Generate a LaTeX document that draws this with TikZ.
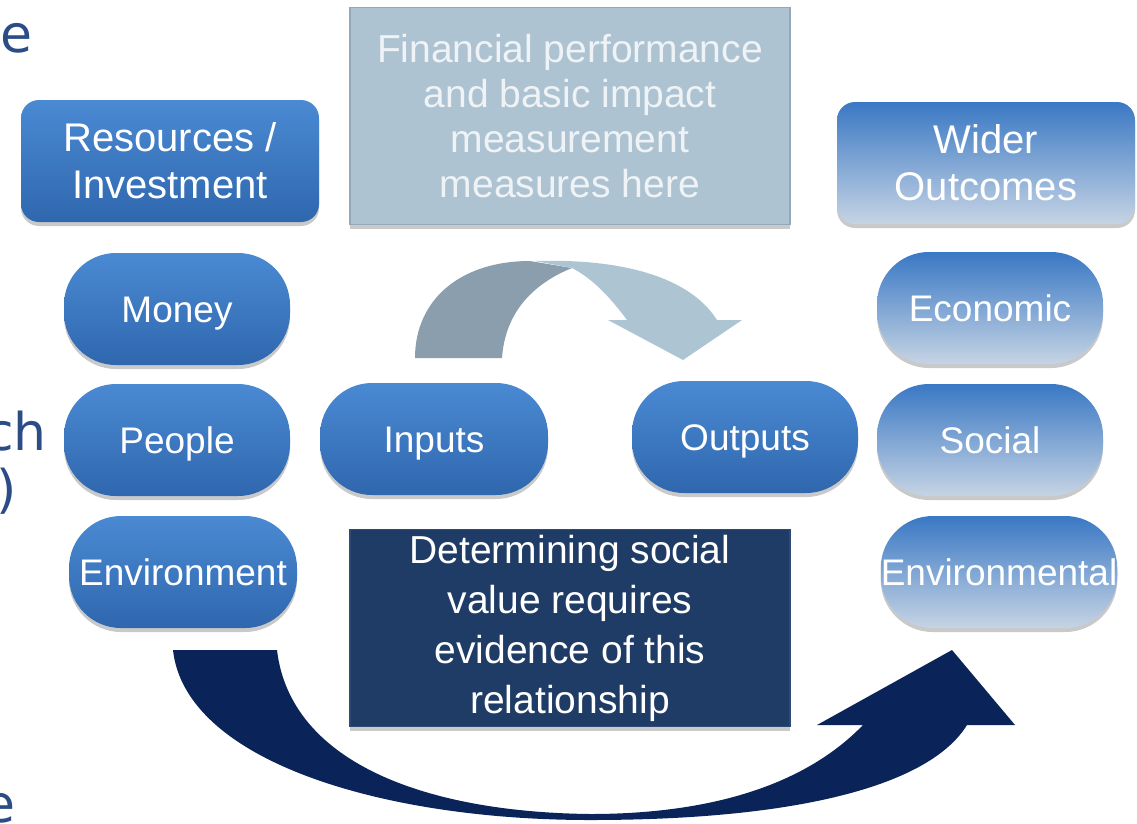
\documentclass[tikz,border=0pt]{standalone}
\usepackage{fontspec}
\setmainfont{Liberation Sans}
\newfontfamily\slidefont{DejaVu Sans}
\usetikzlibrary{shadows}
\definecolor{PillTop}{HTML}{4A8AD3}
\definecolor{PillBottom}{HTML}{2F67AE}
\definecolor{FadeTop}{HTML}{3A78C4}
\definecolor{FadeBottom}{HTML}{C6D4E4}
\definecolor{MeasureFill}{HTML}{ADC3D2}
\definecolor{MeasureEdge}{HTML}{93A8B8}
\definecolor{MeasureText}{HTML}{EFF3F6}
\definecolor{EvidenceFill}{HTML}{1F3C66}
\definecolor{EvidenceEdge}{HTML}{2C4A74}
\definecolor{ArrowDark}{HTML}{8A9EAD}
\definecolor{ArrowLight}{HTML}{ADC4D3}
\definecolor{ArrowNavy}{HTML}{0A2359}
\definecolor{SlideText}{HTML}{2C4C86}
\tikzset{
  boxtext/.style={text=white, align=center, inner sep=0pt, font=\fontsize{39}{45}\selectfont},
  softshadow/.style={drop shadow={shadow xshift=0pt, shadow yshift=-4pt, opacity=0.3, fill=black!70}},
  capsule/.style={boxtext, softshadow, shade, top color=PillTop, bottom color=PillBottom},
  pill/.style={capsule, rounded corners=52pt, minimum width=226pt, minimum height=112pt,
    font=\fontsize{37}{44}\selectfont, text height=26.5pt, text depth=0pt},
  fadepill/.style={pill, top color=FadeTop, bottom color=FadeBottom},
  headbox/.style={capsule, rounded corners=18pt, minimum width=298pt, minimum height=122pt,
    font=\fontsize{40}{47}\selectfont},
  notebox/.style={boxtext, softshadow, minimum width=440pt},
}

\begin{document}
\begin{tikzpicture}[x=1pt, y=-1pt]
  \useasboundingbox (0,0) rectangle (1137,823);
  \clip (0,0) rectangle (1137,823);

  % --- slide text cut off at the left edge ---
  \begin{scope}[every node/.style={font=\slidefont\fontsize{52}{60}\selectfont, text=SlideText, inner sep=0pt, anchor=base east}]
    \node (cutA) at (33,52) {ne};
    \node (cutB) at (47,450) {ch};
    \node (cutC) at (17,507) {)};
    \node (cutD) at (16,822) {e};
  \end{scope}

  % --- (A) small arrow: inputs to outputs ---
  \fill[ArrowDark] (415,358) .. controls (415,300) and (460,261) .. (530,261)
    -- (572,268) .. controls (530,285) and (505,315) .. (502,358) -- cycle;
  \fill[ArrowLight] (535,261) .. controls (640,258) and (695,285) .. (717,320)
    -- (742,320) -- (683,360) -- (608,320) -- (627,320)
    .. controls (612,300) and (595,280) .. (572,268) -- cycle;

  % --- (B) big arrow: resources to wider outcomes ---
  \fill[ArrowNavy] (173,650) .. controls (185,760) and (380,820) .. (590,820)
    .. controls (800,820) and (930,785) .. (967,725)
    -- (1015,725) -- (952,650) -- (817,725) -- (863,725)
    .. controls (800,790) and (700,814) .. (590,814)
    .. controls (420,812) and (290,760) .. (277,650) -- cycle;

  % --- headers ---
  \node[headbox] (resources) at (170,161) {Resources /\\Investment};
  \node[headbox, top color=FadeTop, bottom color=FadeBottom] (wider) at (986,163) {Wider\\Outcomes};

  % --- text boxes ---
  \node[notebox, fill=MeasureFill, draw=MeasureEdge, line width=1.5pt, text=MeasureText,
    minimum height=217pt] (measures) at (570,116)
    {Financial performance\\and basic impact\\measurement\\measures here};
  \node[notebox, fill=EvidenceFill, draw=EvidenceEdge, line width=1.5pt,
    minimum height=197pt, font=\fontsize{39}{50}\selectfont] (evidence) at (570,628)
    {Determining social\\value requires\\evidence of this\\relationship};

  % --- left column ---
  \node[pill] (money) at (177,309) {Money};
  \node[pill] (people) at (177,440) {People};
  \node[pill, minimum width=228pt] (environment) at (183,572) {Environment};

  % --- middle ---
  \node[pill, minimum width=228pt] (inputs) at (434,439) {Inputs};
  \node[pill] (outputs) at (745,437) {Outputs};

  % --- right column ---
  \node[fadepill] (economic) at (990,308) {Economic};
  \node[fadepill] (social) at (990,440) {Social};
  \node[fadepill, minimum width=232pt] (environmental) at (999,572) {Environmental};

\end{tikzpicture}
\end{document}
